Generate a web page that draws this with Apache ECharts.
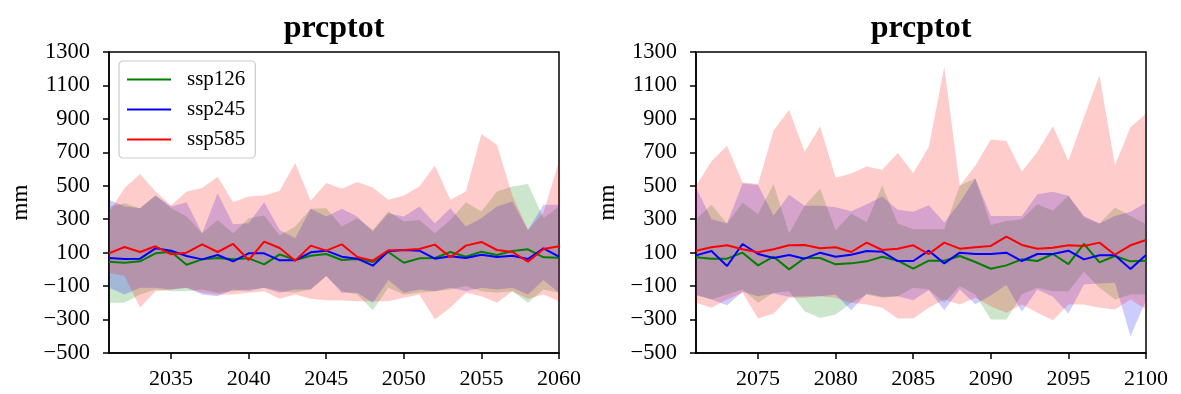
<!DOCTYPE html>
<html>
<head>
<meta charset="utf-8">
<script src="https://cdn.jsdelivr.net/npm/echarts@6/dist/echarts.min.js"></script>
<style>
  html, body { margin: 0; padding: 0; background: #fff; }
  #chart { width: 1181px; height: 394px; }
</style>
</head>
<body>
<div id="chart"></div>
<script>
// ---- Annual total precipitation (prcptot, mm): ensemble mean and min–max range ----
const yearsNear = [2031,2032,2033,2034,2035,2036,2037,2038,2039,2040,2041,2042,2043,2044,2045,
                   2046,2047,2048,2049,2050,2051,2052,2053,2054,2055,2056,2057,2058,2059,2060];
const yearsFar  = [2071,2072,2073,2074,2075,2076,2077,2078,2079,2080,2081,2082,2083,2084,2085,
                   2086,2087,2088,2089,2090,2091,2092,2093,2094,2095,2096,2097,2098,2099,2100];

const yTicks = [-500,-300,-100,100,300,500,700,900,1100,1300];
const xTicksNear = [2035,2040,2045,2050,2055,2060];
const xTicksFar  = [2075,2080,2085,2090,2095,2100];

// 2031–2060
const near126Mean = [46,40,48,96,106,28,60,68,60,66,30,90,56,82,92,56,62,44,104,40,66,68,104,76,106,86,110,120,72,70];
const near126Low  = [-200,-200,-150,-120,-130,-130,-120,-140,-130,-120,-110,-130,-140,-120,-40,-130,-150,-244,-110,-150,-140,-130,-120,-100,-130,-140,-130,-200,-120,-140];
const near126High = [376,396,366,442,366,316,216,296,216,306,322,202,256,362,366,256,306,236,346,286,296,216,296,402,346,466,496,510,306,376];

const near245Mean = [68,62,64,126,112,80,60,86,48,96,96,54,54,102,112,76,64,22,108,116,112,64,78,68,88,74,82,62,126,76];
const near245Low  = [-110,-150,-110,-110,-120,-110,-150,-160,-120,-130,-110,-140,-120,-120,-40,-140,-140,-200,-64,-140,-120,-130,-110,-130,-110,-120,-110,-150,-64,-140];
const near245High = [416,376,366,442,376,402,216,456,270,276,402,236,186,362,316,362,316,226,336,316,376,276,366,256,306,376,406,236,386,386];

const near585Mean = [96,134,104,138,90,100,150,104,152,56,166,128,52,142,112,150,74,52,114,116,122,148,72,142,164,116,104,46,122,138];
const near585Low  = [-20,-40,-228,-130,-120,-110,-140,-150,-150,-140,-130,-176,-150,-176,-184,-186,-190,-190,-190,-170,-150,-300,-228,-140,-160,-200,-130,-176,-150,-190];
const near585High = [340,486,570,466,382,466,486,554,402,436,442,470,636,410,516,482,522,490,416,442,496,622,416,466,810,746,440,236,340,646];

// 2071–2100
const far126Mean = [72,64,64,100,24,76,0,68,68,30,36,48,76,52,4,52,52,80,44,4,24,60,50,92,32,152,42,80,48,52];
const far126Low  = [-150,-180,-150,-120,-200,-140,-130,-250,-290,-270,-200,-150,-170,-160,-110,-120,-200,-100,-150,-300,-300,-150,-110,-130,-130,-14,-110,-180,-150,-150];
const far126High = [300,386,274,398,330,510,214,380,482,234,334,282,502,274,240,240,240,502,544,266,290,300,390,350,440,310,274,370,320,270];

const far245Mean = [84,110,20,152,92,68,86,64,100,76,88,110,106,50,50,112,36,100,92,92,100,50,92,92,112,60,84,84,2,86];
const far245Low  = [-154,-180,-214,-134,-160,-144,-164,-160,-160,-150,-244,-144,-164,-160,-184,-124,-244,-120,-208,-154,-94,-254,-120,-164,-264,-90,-84,-80,-400,-184];
const far245High = [490,300,274,514,504,322,446,380,380,372,348,390,436,356,344,384,280,400,544,320,320,320,450,464,440,320,274,320,344,398];

const far585Mean = [112,132,144,120,102,120,144,146,126,132,104,160,116,124,144,92,160,124,132,140,196,146,124,130,144,140,160,88,144,176];
const far585Low  = [-200,-230,-180,-140,-294,-264,-170,-170,-160,-170,-200,-210,-230,-294,-294,-230,-180,-210,-170,-220,-260,-210,-260,-304,-210,-210,-230,-240,-180,-240];
const far585High = [500,646,740,520,510,830,954,704,856,548,574,616,596,696,576,732,1210,500,620,776,768,586,704,856,650,910,1160,624,850,930];

const scenarioNames = ['ssp126','ssp245','ssp585'];
const lineColors = ['#008000','#0000ff','#ff0000'];
const bandColors = ['rgba(0,128,0,0.2)','rgba(0,0,255,0.2)','rgba(255,0,0,0.2)'];

const panels = [
  { years: yearsNear, xTicks: xTicksNear, center: 329,
    mean: [near126Mean, near245Mean, near585Mean],
    low:  [near126Low,  near245Low,  near585Low],
    high: [near126High, near245High, near585High] },
  { years: yearsFar, xTicks: xTicksFar, center: 916,
    mean: [far126Mean, far245Mean, far585Mean],
    low:  [far126Low,  far245Low,  far585Low],
    high: [far126High, far245High, far585High] }
];

const FONT = 'Liberation Serif';
const gridLefts = [109, 696];

const grids = [], xAxes = [], yAxes = [], titles = [], series = [];

// One filled polygon per range: upper edge left→right, lower edge right→left
function rangeSeries(k, years, low, high, fill) {
  return {
    type: 'custom', xAxisIndex: k, yAxisIndex: k, silent: true, z: 1,
    data: years.map((y, i) => [y, low[i], high[i]]),
    encode: { x: 0, y: [1, 2] },
    renderItem: (params, api) => {
      if (params.dataIndex !== 0) return null;
      const pts = [];
      for (let i = 0; i < years.length; i++) pts.push(api.coord([years[i], high[i]]));
      for (let i = years.length - 1; i >= 0; i--) pts.push(api.coord([years[i], low[i]]));
      return { type: 'polygon', shape: { points: pts }, style: { fill: fill, stroke: null } };
    }
  };
}

panels.forEach((p, k) => {
  grids.push({ left: gridLefts[k], top: 52, width: 450, height: 301,
               show: true, borderColor: '#000', borderWidth: 1.5, backgroundColor: 'transparent' });
  titles.push({ text: 'prcptot', left: p.center, top: 8, textAlign: 'center',
                textStyle: { fontFamily: FONT, fontWeight: 'bold', fontSize: 32, color: '#000' } });
  xAxes.push({
    type: 'value', gridIndex: k, min: p.years[0], max: p.years[p.years.length - 1],
    axisLine: { show: true, onZero: false, lineStyle: { color: '#000', width: 1.5 } },
    axisTick: { show: true, customValues: p.xTicks, length: 6, inside: false, lineStyle: { color: '#000', width: 1.5 } },
    axisLabel: { customValues: p.xTicks, margin: 15, color: '#000', fontFamily: FONT, fontSize: 22,
                 formatter: v => String(v) },
    splitLine: { show: false }
  });
  yAxes.push({
    type: 'value', gridIndex: k, min: yTicks[0], max: yTicks[yTicks.length - 1], interval: 200,
    name: 'mm', nameLocation: 'middle', nameGap: 77, nameRotate: 90,
    nameTextStyle: { fontFamily: FONT, fontSize: 23, color: '#000' },
    axisLine: { show: true, onZero: false, lineStyle: { color: '#000', width: 1.5 } },
    axisTick: { show: true, length: 6, inside: false, lineStyle: { color: '#000', width: 1.5 } },
    axisLabel: { margin: 19, color: '#000', fontFamily: FONT, fontSize: 22.5,
                 formatter: v => String(v).replace('-', '\u2212') },
    splitLine: { show: false }
  });

  // shaded min–max ranges, drawn green, blue, red
  for (let s = 0; s < 3; s++) {
    series.push(rangeSeries(k, p.years, p.low[s], p.high[s], bandColors[s]));
  }
  // ensemble means
  for (let s = 0; s < 3; s++) {
    series.push({
      name: scenarioNames[s], type: 'line', xAxisIndex: k, yAxisIndex: k,
      data: p.years.map((y, i) => [y, p.mean[s][i]]),
      symbol: 'none', z: 3,
      lineStyle: { color: lineColors[s], width: 2 }, itemStyle: { color: lineColors[s] }
    });
  }
});

const chart = echarts.init(document.getElementById('chart'), null, { renderer: 'canvas' });
chart.setOption({
  backgroundColor: '#fff',
  animation: false,
  title: titles,
  grid: grids,
  xAxis: xAxes,
  yAxis: yAxes,
  legend: {
    data: scenarioNames.map(n => ({ name: n, icon: 'rect' })),
    orient: 'vertical', left: 119, top: 61,
    padding: [8, 10, 8, 8], itemGap: 9, itemWidth: 44, itemHeight: 2,
    backgroundColor: 'rgba(255,255,255,0.8)', borderColor: '#cccccc', borderWidth: 1.2, borderRadius: 4,
    textStyle: { fontFamily: FONT, fontSize: 21, color: '#000', padding: [0, 0, 0, 11] }
  },
  series: series
});
</script>
</body>
</html>
